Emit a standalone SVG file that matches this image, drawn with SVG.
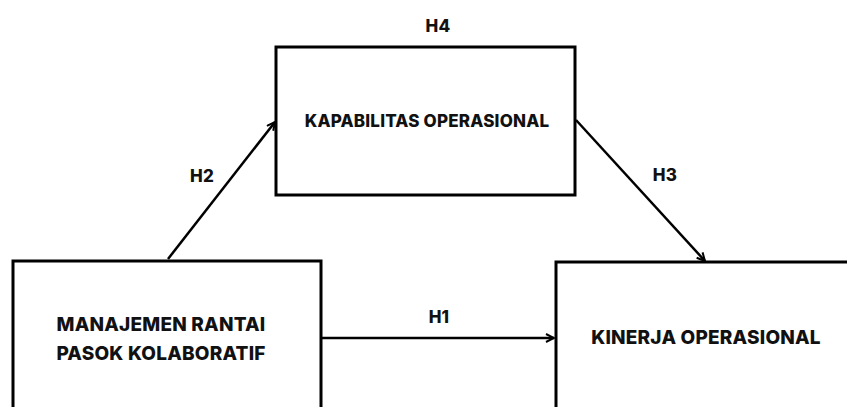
<svg xmlns="http://www.w3.org/2000/svg" width="847" height="407" viewBox="0 0 847 407">
<style>
.box{fill:#fff;stroke:#000;stroke-width:3}
.t{font-family:Inter,"Liberation Sans",Arial,sans-serif;font-weight:800;font-size:17px;letter-spacing:0.2px;fill:#111;text-anchor:middle}
.big{font-size:19px}
.c{stroke:#000;stroke-width:2.5;fill:none;marker-end:url(#ah)}
</style>
<defs>
<marker id="ah" viewBox="0 0 10 10" refX="9" refY="5" markerWidth="4" markerHeight="4" orient="auto" markerUnits="strokeWidth">
<path d="M1,1 L9,5 L1,9" fill="none" stroke="#000" stroke-width="2"/>
</marker>
</defs>
<rect width="847" height="407" fill="#fff"/>
<g id="node-kapabilitas">
<rect class="box" x="276" y="47" width="299" height="148"/>
<text class="t" x="427" y="127">KAPABILITAS OPERASIONAL</text>
</g>
<g id="node-manajemen">
<rect class="box" x="13" y="261" width="308" height="160"/>
<text class="t big" x="161" y="331">MANAJEMEN RANTAI</text>
<text class="t big" x="161" y="360">PASOK KOLABORATIF</text>
</g>
<g id="node-kinerja">
<rect class="box" x="556" y="262" width="310" height="160"/>
<text class="t big" x="706" y="344">KINERJA OPERASIONAL</text>
</g>
<g id="connectors">
<line class="c" x1="168" y1="259" x2="275" y2="122"/>
<line class="c" x1="576" y1="120" x2="705" y2="261"/>
<line class="c" x1="322" y1="338" x2="554" y2="338"/>
</g>
<g id="labels">
<text class="t" x="438" y="32">H4</text>
<text class="t" x="202" y="182">H2</text>
<text class="t" x="665" y="181">H3</text>
<text class="t" x="439" y="323">H1</text>
</g>
</svg>
